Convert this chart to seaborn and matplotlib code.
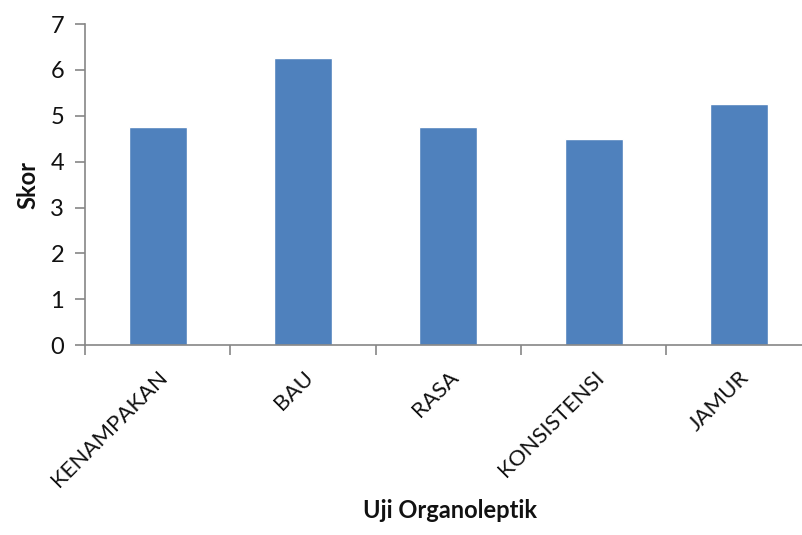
import matplotlib
matplotlib.use("Agg")
import matplotlib.pyplot as plt
import seaborn as sns
import pandas as pd
import numpy as np

categories = ["KENAMPAKAN", "BAU", "RASA", "KONSISTENSI", "JAMUR"]
scores = [4.75, 6.25, 4.75, 4.5, 5.25]
y_ticks = [0, 1, 2, 3, 4, 5, 6, 7]

sns.set_theme(style="white")
plt.rcParams["font.family"] = ["Lato", "DejaVu Sans"]

df = pd.DataFrame({"Uji": categories, "Skor": scores})

fig = plt.figure(figsize=(8.02, 5.35), dpi=100)
ax = fig.add_axes([0.106, 0.355, 0.906, 0.600])

sns.barplot(data=df, x="Uji", y="Skor", color="#4F81BD", saturation=1,
            width=0.4, ax=ax)

ax.set_xlim(-0.5, len(categories) - 0.5)
ax.set_ylim(0, 7)
ax.set_yticks(y_ticks)

spine_col = "#868686"
for side in ["top", "right"]:
    ax.spines[side].set_visible(False)
for side in ["left", "bottom"]:
    ax.spines[side].set_color(spine_col)
    ax.spines[side].set_linewidth(1.2)

# category boundaries carry the tick marks, labels sit at centres
ax.set_xticks(np.arange(len(categories) + 1) - 0.5, minor=True)
ax.tick_params(axis="x", which="minor", length=7, width=1.2, color=spine_col,
               direction="out", bottom=True)
ax.tick_params(axis="x", which="major", length=0, pad=16)
ax.tick_params(axis="y", length=7, width=1.2, color=spine_col, direction="out",
               left=True, labelsize=17, pad=8, labelcolor="#111111")
ax.set_xticklabels(categories, rotation=45, ha="right", rotation_mode="anchor",
                   fontsize=16, color="#111111")

ax.set_ylabel("Skor", fontsize=17, fontweight="bold", labelpad=8,
              color="#111111")
ax.set_xlabel("Uji Organoleptik", fontsize=17, fontweight="bold",
              color="#111111")
ax.xaxis.set_label_coords(0.503, -0.514)
ax.xaxis.label.set_va("center")

fig.savefig("out.png", dpi=100)
